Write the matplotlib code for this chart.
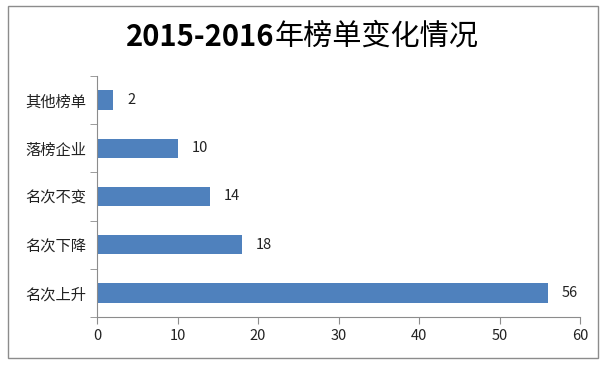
import matplotlib.pyplot as plt
from matplotlib.patches import Rectangle

plt.rcParams['font.family'] = ['Noto Sans CJK SC', 'DejaVu Sans']

categories = ["名次上升", "名次下降", "名次不变", "落榜企业", "其他榜单"]
values = [56, 18, 14, 10, 2]
x_ticks = [0, 10, 20, 30, 40, 50, 60]
title_num = "2015-2016"
title_rest = "年榜单变化情况"

fig = plt.figure(figsize=(6.04, 3.67), dpi=100)
ax = fig.add_axes([97 / 604, 1 - 317 / 367, 483 / 604, 241 / 367])

# outer frame like the Excel chart area
fig.patches.append(Rectangle((8 / 604, 1 - 358 / 367), 590 / 604, 352 / 367,
                             transform=fig.transFigure, fill=False,
                             edgecolor="#8c8c8c", linewidth=1.0))

pos = range(len(categories))
ax.barh(pos, values, height=0.4, color="#4F81BD")
for p, v in zip(pos, values):
    ax.annotate(str(v), (v, p), xytext=(10, 0), textcoords="offset points",
                va="center", ha="left", fontsize=10.5, color="#222222")

ax.set_xlim(0, 60)
ax.set_ylim(-0.5, len(categories) - 0.5)
ax.set_xticks(x_ticks)
ax.set_yticks(list(pos))
ax.set_yticklabels(categories)
ax.set_yticks([i - 0.5 for i in range(len(categories) + 1)], minor=True)
ax.tick_params(axis="y", which="major", length=0, pad=8, labelsize=11, colors="#222222")
ax.tick_params(axis="y", which="minor", length=5, color="#8c8c8c")
ax.tick_params(axis="x", length=5, color="#8c8c8c", labelsize=10.5, labelcolor="#222222", pad=4)

for s in ["top", "right"]:
    ax.spines[s].set_visible(False)
for s in ["left", "bottom"]:
    ax.spines[s].set_color("#8c8c8c")

# title: bold digits, regular CJK, centred together
ty = 1 - 37 / 367
t1 = fig.text(0, ty, title_num, ha="left", va="center", fontsize=21, fontweight="bold")
t2 = fig.text(0, ty, title_rest, ha="left", va="center", fontsize=21)
r = fig.canvas.get_renderer()
w1 = t1.get_window_extent(r).width / fig.bbox.width
w2 = t2.get_window_extent(r).width / fig.bbox.width
x0 = 0.5 - (w1 + w2) / 2
t1.set_x(x0)
t2.set_x(x0 + w1)

fig.savefig("out.png", dpi=100)
